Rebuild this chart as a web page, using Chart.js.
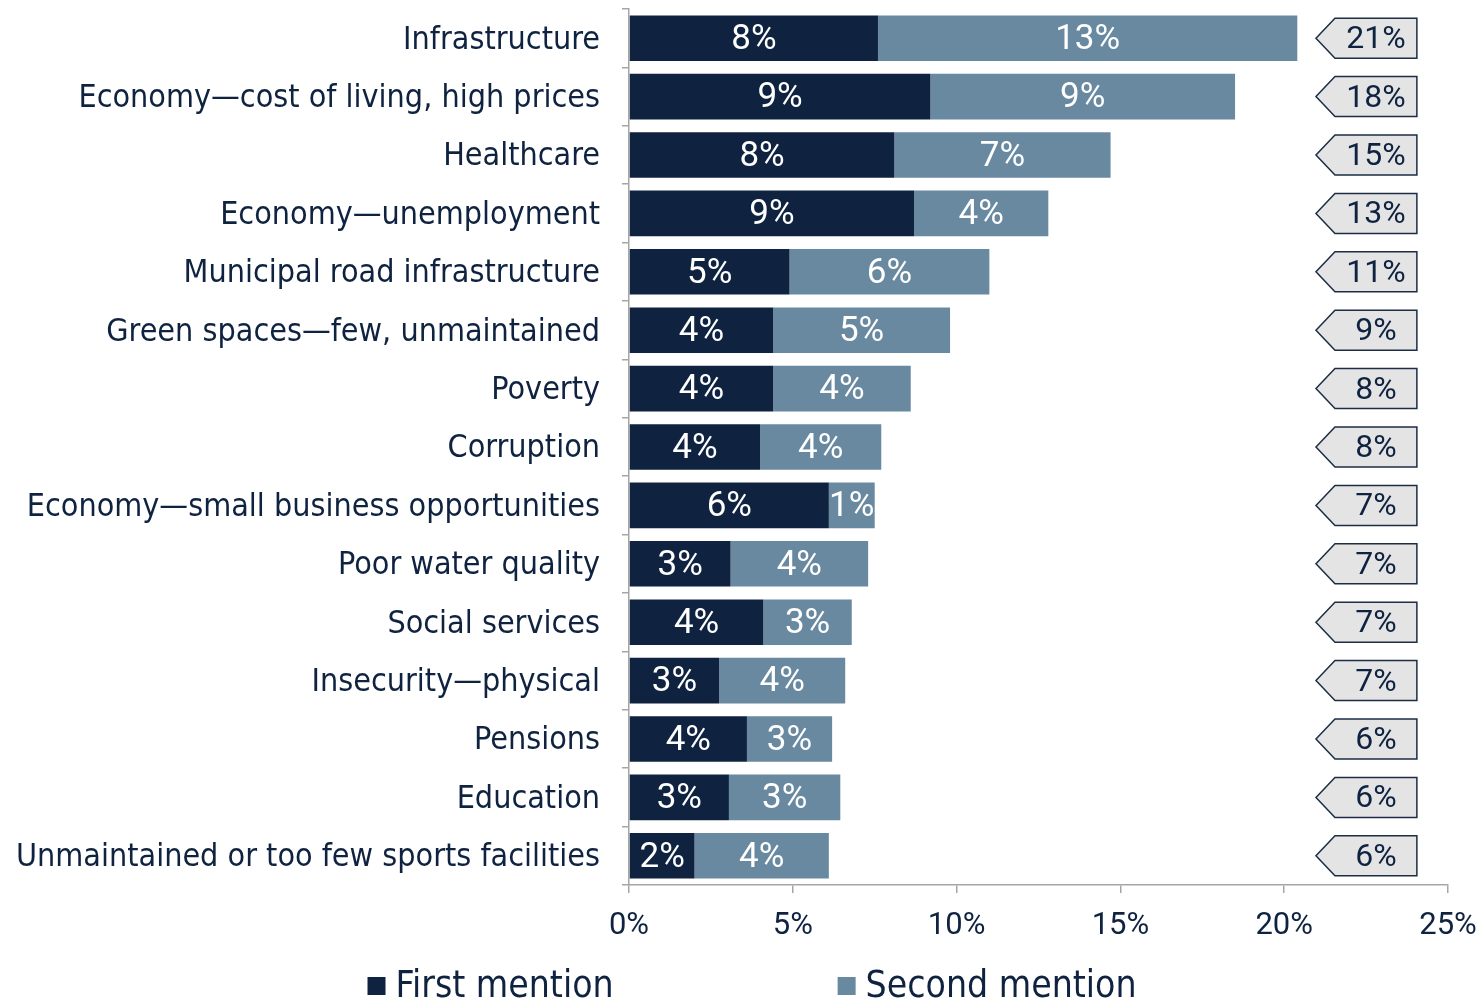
<!DOCTYPE html>
<html>
<head>
<meta charset="utf-8">
<script src="https://cdn.jsdelivr.net/npm/chart.js@4.4.1/dist/chart.umd.min.js"></script>
<style>
  html, body { margin: 0; padding: 0; background: #fff; }
  #wrap { width: 1482px; height: 1003px; position: relative; }
</style>
</head>
<body>
<div id="wrap"><canvas id="chart"></canvas></div>
<script>
const categories = [
    'Infrastructure',
    'Economy\u2014cost of living, high prices',
    'Healthcare',
    'Economy\u2014unemployment',
    'Municipal road infrastructure',
    'Green spaces\u2014few, unmaintained',
    'Poverty',
    'Corruption',
    'Economy\u2014small business opportunities',
    'Poor water quality',
    'Social services',
    'Insecurity\u2014physical',
    'Pensions',
    'Education',
    'Unmaintained or too few sports facilities'
];
const firstMention  = [7.6, 9.2, 8.1, 8.7, 4.9, 4.4, 4.4, 4.0, 6.1, 3.1, 4.1, 2.75, 3.6, 3.05, 2.0];
const secondMention = [12.8, 9.3, 6.6, 4.1, 6.1, 5.4, 4.2, 3.7, 1.4, 4.2, 2.7, 3.85, 2.6, 3.4, 4.1];
const totalLabels   = ['21%', '18%', '15%', '13%', '11%', '9%', '8%', '8%', '7%', '7%', '7%', '7%', '6%', '6%', '6%'];
const xTicks = [0, 5, 10, 15, 20, 25];

const FONT = '"DejaVu Sans Condensed", "DejaVu Sans", sans-serif';
const NUM_FONT = 'Roboto, "DejaVu Sans Condensed", sans-serif';
const NAVY = '#0f2340';
const STEEL = '#6889a0';
const AXIS = '#a6a6a6';

// labels inside the bars, arrow callouts with totals, and the legend
const barLabels = {
    id: 'barLabels',
    afterDatasetsDraw(chart) {
        const ctx = chart.ctx;
        ctx.save();
        ctx.font = '35px ' + NUM_FONT;
        ctx.fillStyle = '#fff';
        ctx.textAlign = 'center';
        ctx.textBaseline = 'middle';
        chart.data.datasets.forEach((ds, di) => {
            chart.getDatasetMeta(di).data.forEach((bar, i) => {
                const p = bar.getProps(['x', 'y', 'base'], true);
                ctx.fillText(Math.round(ds.data[i]) + '%', (p.x + p.base) / 2, p.y + 2);
            });
        });

        const xs = chart.scales.x, ys = chart.scales.y;
        const tip = xs.getPixelForValue(20.97);
        const left = xs.getPixelForValue(21.55);
        const right = xs.getPixelForValue(24.05);
        const h = 40;
        ctx.font = '32px ' + NUM_FONT;
        totalLabels.forEach((t, i) => {
            const y = ys.getPixelForValue(i);
            ctx.beginPath();
            ctx.moveTo(tip, y);
            ctx.lineTo(left, y - h / 2);
            ctx.lineTo(right, y - h / 2);
            ctx.lineTo(right, y + h / 2);
            ctx.lineTo(left, y + h / 2);
            ctx.closePath();
            ctx.fillStyle = '#e4e4e4';
            ctx.fill();
            ctx.lineWidth = 1.5;
            ctx.strokeStyle = '#1c2d45';
            ctx.stroke();
            ctx.fillStyle = NAVY;
            ctx.fillText(t, (left + right) / 2, y + 2);
        });
        ctx.restore();
    },
    afterDraw(chart) {
        const ctx = chart.ctx;
        ctx.save();
        ctx.font = '37px ' + FONT;
        ctx.textBaseline = 'middle';
        ctx.textAlign = 'left';
        const box = 18, gapText = 10, gapItem = 224;
        const items = chart.data.datasets.map(ds => ({
            text: ds.label, color: ds.backgroundColor,
            w: box + gapText + ctx.measureText(ds.label).width
        }));
        const total = items.reduce((s, it) => s + it.w, 0) + gapItem * (items.length - 1);
        let x = chart.width / 2 + 11 - total / 2;
        const y = chart.height - 17;
        items.forEach(it => {
            ctx.fillStyle = it.color;
            ctx.fillRect(x, y - box / 2, box, box);
            ctx.fillStyle = NAVY;
            ctx.fillText(it.text, x + box + gapText, y + 1);
            x += it.w + gapItem;
        });
        ctx.restore();
    }
};

const canvas = document.getElementById('chart');
const config = {
    type: 'bar',
    data: {
        labels: categories,
        datasets: [
            { label: 'First mention', data: firstMention, backgroundColor: NAVY },
            { label: 'Second mention', data: secondMention, backgroundColor: STEEL }
        ]
    },
    options: {
        indexAxis: 'y',
        responsive: true,
        maintainAspectRatio: false,
        animation: false,
        categoryPercentage: 1,
        barPercentage: 0.78,
        layout: { padding: { top: 9, right: 34, left: 0, bottom: 0 } },
        scales: {
            x: {
                stacked: true,
                min: 0,
                max: 25,
                afterBuildTicks(scale) { scale.ticks = xTicks.map(v => ({ value: v })); },
                afterFit(scale) {
                    scale.height = 118;
                    scale.paddingLeft = 0;
                    scale.paddingRight = 0;
                },
                ticks: {
                    callback: v => v + '%',
                    color: NAVY,
                    font: { family: NUM_FONT, size: 31 },
                    padding: 15,
                    maxRotation: 0
                },
                grid: { drawOnChartArea: false, tickLength: 8, color: AXIS, lineWidth: 1.5 },
                border: { color: AXIS, width: 1.5 }
            },
            y: {
                stacked: true,
                afterFit(scale) {
                    scale.width = 629;
                    scale.paddingTop = 0;
                    scale.paddingBottom = 0;
                },
                ticks: {
                    color: NAVY,
                    font: { family: FONT, size: 32 },
                    padding: 22,
                    labelOffset: 2,
                    autoSkip: false
                },
                grid: { drawOnChartArea: false, tickLength: 7, color: AXIS, lineWidth: 1.5, offset: true },
                border: { color: AXIS, width: 1.5 }
            }
        },
        plugins: {
            legend: { display: false },
            tooltip: { enabled: false }
        }
    },
    plugins: [barLabels]
};
const chart = new Chart(canvas, config);
</script>
</body>
</html>
